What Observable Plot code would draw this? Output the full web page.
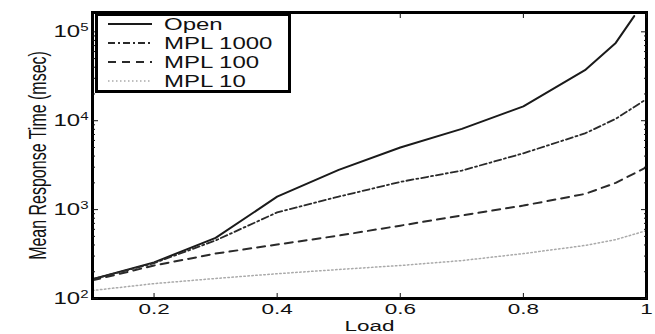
<!DOCTYPE html>
<html><head><meta charset="utf-8">
<script src="https://cdn.jsdelivr.net/npm/d3@7"></script>
<script src="https://cdn.jsdelivr.net/npm/@observablehq/plot@0.6"></script>
<style>
body{margin:0;background:#fff;}
#chart{position:relative;width:655px;height:334px;overflow:hidden;background:#fff;}
#legend{position:absolute;left:95px;top:13px;width:190px;height:74px;border:3px solid #000;background:#fff;}
</style></head><body><div id="chart"></div>
<script>
// ---- data ----
const seriesNames = ["Open", "MPL 1000", "MPL 100", "MPL 10"];
const loadOpen = [0.1, 0.2, 0.3, 0.4, 0.5, 0.6, 0.7, 0.8, 0.9, 0.95, 0.98];
const timeOpen = [165, 255, 480, 1400, 2800, 5000, 8100, 14500, 37000, 75000, 150000];
const loadMpl = [0.1, 0.2, 0.3, 0.4, 0.5, 0.6, 0.7, 0.8, 0.9, 0.95, 1.0];
const timeMpl1000 = [165, 250, 450, 930, 1400, 2050, 2750, 4300, 7200, 10500, 17500];
const timeMpl100 = [160, 235, 320, 405, 510, 660, 860, 1110, 1500, 2000, 3000];
const timeMpl10 = [123, 147, 168, 190, 212, 235, 267, 320, 395, 460, 580];
const xTicks = [0.2, 0.4, 0.6, 0.8, 1];
const yTicks = [100, 1000, 10000, 100000];
const yExponents = ["2", "3", "4", "5"];
const xLabel = "Load";
const yLabel = "Mean Response Time (msec)";

// ---- styles ----
const styles = [
  {stroke: "#1a1a1a", strokeWidth: 2, dash: null},
  {stroke: "#2a2a2a", strokeWidth: 1.8, dash: "7,3,2,3"},
  {stroke: "#2a2a2a", strokeWidth: 2, dash: "8,6"},
  {stroke: "#aaaaaa", strokeWidth: 1.5, dash: "1.5,2.5"}
];
const seriesX = [loadOpen, loadMpl, loadMpl, loadMpl];
const seriesY = [timeOpen, timeMpl1000, timeMpl100, timeMpl10];
const tables = seriesNames.map((name, s) => seriesX[s].map((x, i) => ({series: name, load: x, time: seriesY[s][i]})));

const minorTicks = [];
for (let e = 2; e <= 5; e++) for (let m = 2; m <= 9; m++) { const v = m * Math.pow(10, e); if (v <= 165000) minorTicks.push(v); }

const font = "'Liberation Sans', Arial, sans-serif";
const chart = Plot.plot({
  width: 655, height: 334,
  marginLeft: 92, marginRight: 9, marginTop: 12, marginBottom: 36,
  style: {fontFamily: font, fontSize: "16px", color: "#111", background: "#fff"},
  x: {domain: [0.1, 1]},
  y: {type: "log", domain: [100, 165000]},
  marks: [
    ...tables.map((t, s) => Plot.line(t, {x: "load", y: "time", stroke: styles[s].stroke, strokeWidth: styles[s].strokeWidth, strokeDasharray: styles[s].dash})),
    Plot.frame({strokeWidth: 3, stroke: "#000"}),
    Plot.axisX(xTicks, {anchor: "bottom", tickSize: -5, tickPadding: 9.5, tickFormat: d => d === 1 ? "1" : d.toFixed(1), label: xLabel, labelArrow: "none", labelAnchor: "center", labelOffset: 32, fontSize: 15}),
    Plot.axisX(xTicks, {anchor: "top", tickSize: -5, tickFormat: () => "", label: null}),
    Plot.axisY(yTicks, {anchor: "left", tickSize: -6, tickPadding: 10, tickFormat: d => "10^" + yExponents[yTicks.indexOf(d)], label: yLabel, labelArrow: "none", labelAnchor: "center", labelOffset: 64, fontSize: 16}),
    Plot.axisY(minorTicks, {anchor: "left", tickSize: -3, tickFormat: () => "", label: null}),
    Plot.axisY(yTicks, {anchor: "right", tickSize: -6, tickFormat: () => "", label: null}),
    Plot.axisY(minorTicks, {anchor: "right", tickSize: -3, tickFormat: () => "", label: null})
  ]
});
document.getElementById("chart").appendChild(chart);

// superscripts for the log tick labels
d3.select(chart).selectAll('g[aria-label="y-axis tick label"] text').each(function() {
  const t = this.textContent;
  if (t.includes("^")) {
    const [base, exp] = t.split("^");
    const sel = d3.select(this);
    sel.text(null);
    sel.append("tspan").text(base);
    sel.append("tspan").attr("dy", "-0.55em").attr("font-size", "10px").text(exp);
  }
});
// the reference's text is stretched horizontally
d3.select(chart).selectAll("text").each(function() {
  const tr = this.getAttribute("transform") || "";
  const rotated = tr.includes("rotate");
  this.setAttribute("transform", tr + (rotated ? " scale(1,1.5)" : " scale(1.5,1)"));
});

// legend
const leg = d3.select("#chart").append("div").attr("id", "legend");
const lsvg = leg.append("svg").attr("width", 190).attr("height", 74);
seriesNames.forEach((name, s) => {
  const y = 8 + s * 19;
  lsvg.append("line").attr("x1", 10).attr("x2", 54).attr("y1", y).attr("y2", y)
    .attr("stroke", styles[s].stroke).attr("stroke-width", styles[s].strokeWidth)
    .attr("stroke-dasharray", styles[s].dash);
  lsvg.append("text").attr("transform", `translate(66,${y + 6}) scale(1.5,1)`)
    .attr("font-family", font).attr("font-size", 16).attr("fill", "#111").text(name);
});
</script></body></html>
